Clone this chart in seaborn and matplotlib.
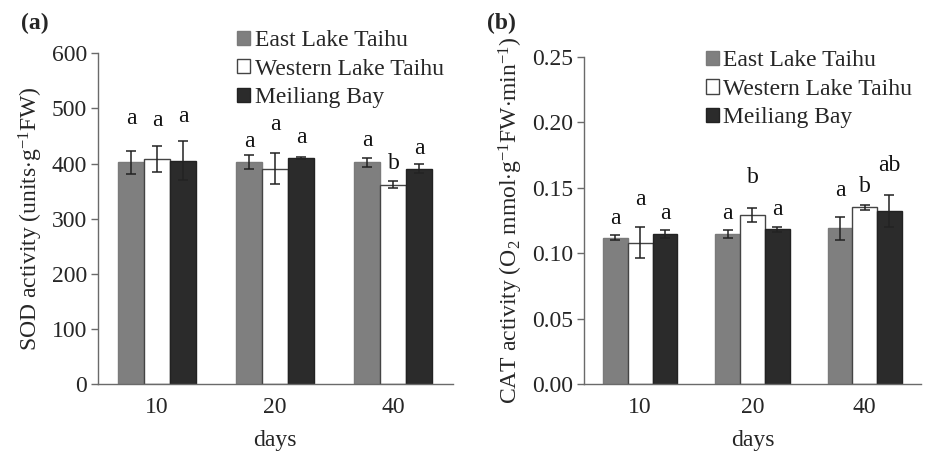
import matplotlib
matplotlib.use("Agg")
import matplotlib.pyplot as plt
from matplotlib.patches import Patch
import seaborn as sns
import pandas as pd
import numpy as np

# ---------------- data ----------------
days = ["10", "20", "40"]
sites = ["East Lake Taihu", "Western Lake Taihu", "Meiliang Bay"]

sod_east = [402, 403, 402]
sod_west = [408, 391, 362]
sod_meil = [405, 410, 391]
sod_east_err = [21, 13, 8]
sod_west_err = [23, 28, 6]
sod_meil_err = [35, 1, 8]
sod_east_lbl = ["a", "a", "a"]
sod_west_lbl = ["a", "a", "b"]
sod_meil_lbl = ["a", "a", "a"]
sod_east_lbl_y = [482, 440, 441]
sod_west_lbl_y = [478, 470, 400]
sod_meil_lbl_y = [486, 448, 428]

cat_east = [0.1119, 0.1147, 0.1190]
cat_west = [0.1081, 0.1292, 0.1350]
cat_meil = [0.1147, 0.1183, 0.1322]
cat_east_err = [0.002, 0.003, 0.0085]
cat_west_err = [0.012, 0.005, 0.002]
cat_meil_err = [0.003, 0.002, 0.012]
cat_east_lbl = ["a", "a", "a"]
cat_west_lbl = ["a", "b", "b"]
cat_meil_lbl = ["a", "a", "ab"]
cat_east_lbl_y = [0.1266, 0.1305, 0.1478]
cat_west_lbl_y = [0.1414, 0.1580, 0.1510]
cat_meil_lbl_y = [0.1305, 0.1335, 0.1668]

# ---------------- style ----------------
sns.set_style("white")
plt.rcParams["font.family"] = ["Liberation Serif", "DejaVu Serif"]
plt.rcParams["mathtext.fontset"] = "custom"
plt.rcParams["mathtext.rm"] = "Liberation Serif"
plt.rcParams["mathtext.it"] = "Liberation Serif:italic"
plt.rcParams["mathtext.bf"] = "Liberation Serif:bold"

colors = ["#7f7f7f", "#ffffff", "#2b2b2b"]
edges = ["#7a7a7a", "#444444", "#222222"]
axis_col = "#6a6a6a"
FS = 17


def make_df(vals, errs, lbls, lbly):
    rows = []
    for s, v, e, l, ly in zip(sites, vals, errs, lbls, lbly):
        for d, vv, ee, ll, yy in zip(days, v, e, l, ly):
            rows.append({"days": d, "site": s, "value": vv, "err": ee, "lbl": ll, "lbly": yy})
    return pd.DataFrame(rows)


def draw(ax, df, ylim, yticks, yfmt, ylabel):
    sns.barplot(data=df, x="days", y="value", hue="site", order=days, hue_order=sites,
                palette=colors, width=0.66, gap=0, errorbar=None, ax=ax,
                saturation=1, legend=False, linewidth=1)
    for i, s in enumerate(sites):
        cont = ax.containers[i]
        sub = df[df.site == s].set_index("days").loc[days]
        for bar, (_, r) in zip(cont.patches, sub.iterrows()):
            bar.set_edgecolor(edges[i])
            bar.set_linewidth(1.0)
            xc = bar.get_x() + bar.get_width() / 2
            ax.errorbar(xc, r["value"], yerr=r["err"], fmt="none", ecolor="#222222",
                        elinewidth=1.1, capsize=3.3, capthick=1.1, zorder=5)
            ax.text(xc, r["lbly"], r["lbl"], ha="center", va="center", fontsize=FS, color="#111111")
    ax.set_ylim(*ylim)
    ax.set_xlim(-0.5, 2.5)
    ax.set_yticks(yticks)
    ax.set_yticklabels([yfmt(t) for t in yticks])
    ax.set_xlabel("days", fontsize=FS, labelpad=8.5)
    ax.set_ylabel(ylabel, fontsize=FS, labelpad=5)
    ax.tick_params(axis="y", direction="out", length=5, width=1, color=axis_col,
                   labelsize=FS, pad=3, left=True)
    ax.tick_params(axis="x", length=0, labelsize=FS, pad=9)
    for sp in ["top", "right"]:
        ax.spines[sp].set_visible(False)
    for sp in ["left", "bottom"]:
        ax.spines[sp].set_color(axis_col)
        ax.spines[sp].set_linewidth(1.0)


fig = plt.figure(figsize=(9.33, 4.51), dpi=100)
ax1 = fig.add_axes([0.105, 0.148, 0.380, 0.734])
ax2 = fig.add_axes([0.626, 0.148, 0.361, 0.726])

df1 = make_df([sod_east, sod_west, sod_meil], [sod_east_err, sod_west_err, sod_meil_err],
              [sod_east_lbl, sod_west_lbl, sod_meil_lbl], [sod_east_lbl_y, sod_west_lbl_y, sod_meil_lbl_y])
df2 = make_df([cat_east, cat_west, cat_meil], [cat_east_err, cat_west_err, cat_meil_err],
              [cat_east_lbl, cat_west_lbl, cat_meil_lbl], [cat_east_lbl_y, cat_west_lbl_y, cat_meil_lbl_y])

draw(ax1, df1, (0, 600), [0, 100, 200, 300, 400, 500, 600], lambda t: f"{t:d}",
     r"SOD activity (units$\cdot$g$^{\mathregular{-1}}$FW)")
draw(ax2, df2, (0, 0.25), [0.0, 0.05, 0.10, 0.15, 0.20, 0.25], lambda t: f"{t:.2f}",
     r"CAT activity (O$_{\mathregular{2}}$ mmol$\cdot$g$^{\mathregular{-1}}$FW$\cdot$min$^{\mathregular{-1}}$)")

handles = [Patch(facecolor=c, edgecolor=e, linewidth=1.0) for c, e in zip(colors, edges)]
for ax, anchor in [(ax1, (0.392, 1.07)), (ax2, (0.361, 1.02))]:
    ax.legend(handles, sites, loc="upper left", bbox_to_anchor=anchor, frameon=False,
              fontsize=FS, handlelength=0.55, handleheight=0.55, handletextpad=0.2,
              labelspacing=0.32, borderaxespad=0, borderpad=0)

fig.text(0.022, 0.948, "(a)", fontsize=FS, fontweight="bold", va="center", ha="left")
fig.text(0.522, 0.948, "(b)", fontsize=FS, fontweight="bold", va="center", ha="left")

fig.savefig("out.png", dpi=100)
